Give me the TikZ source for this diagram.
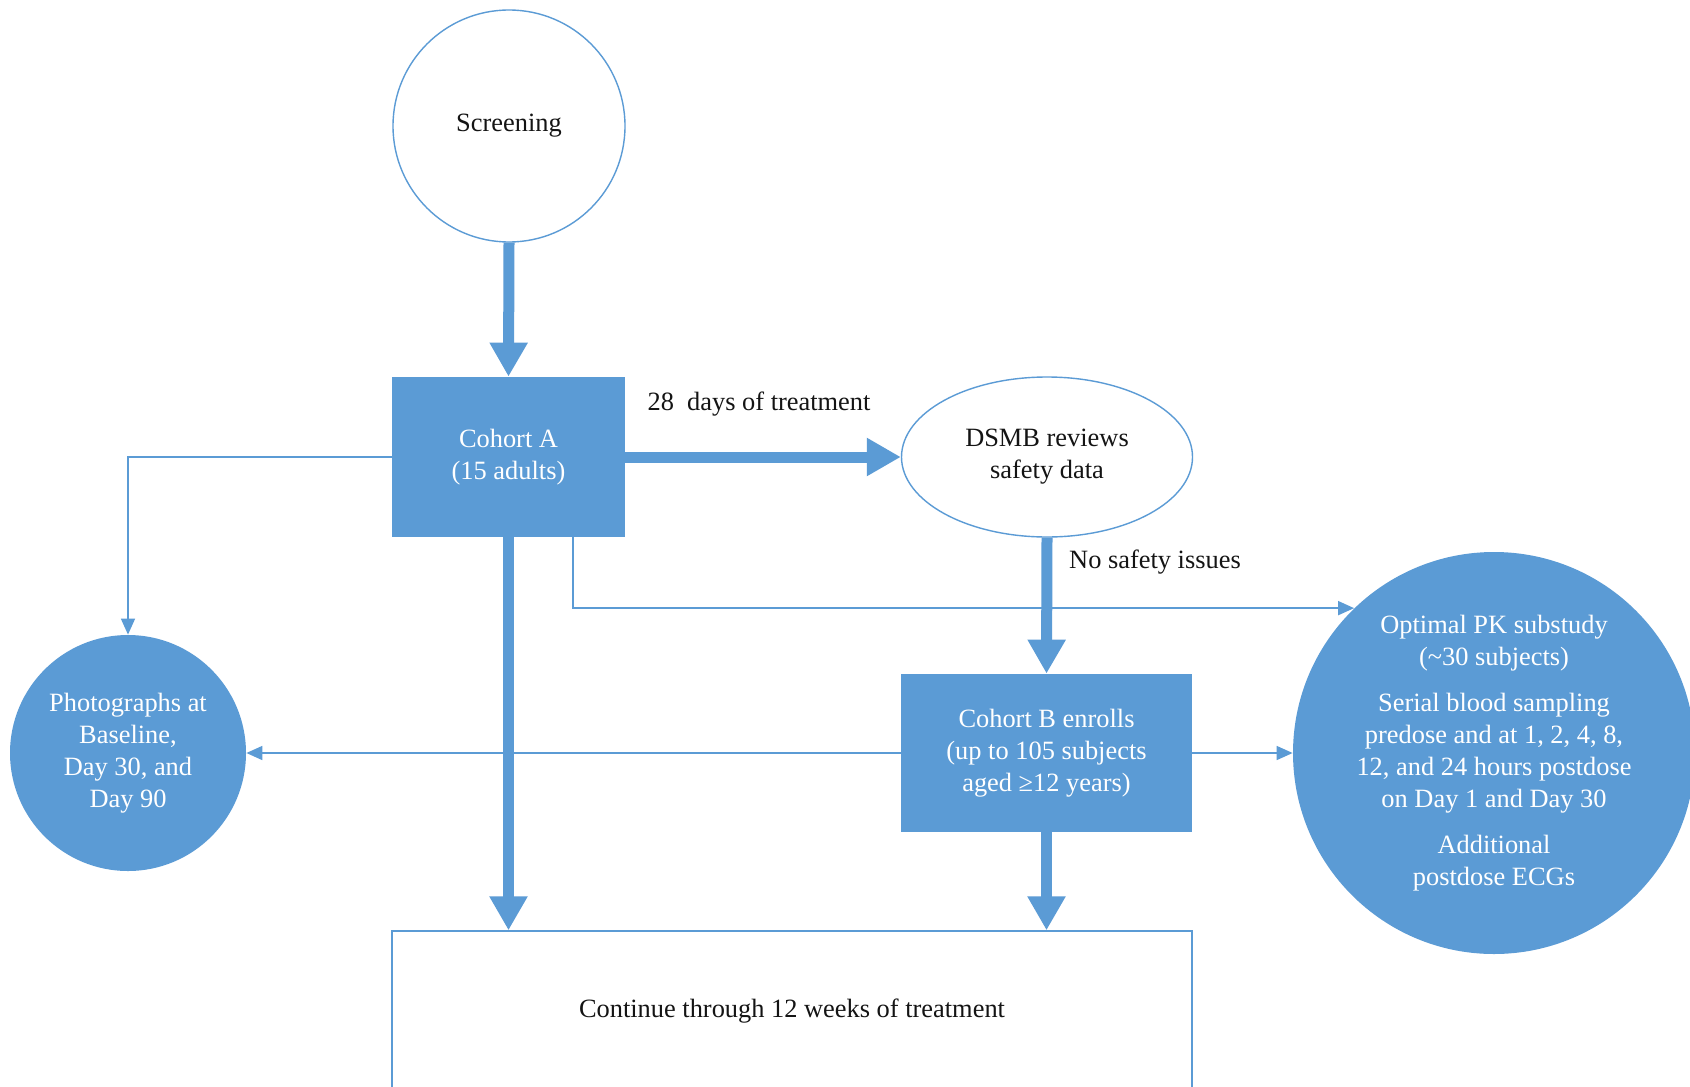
\documentclass[tikz,border=0pt]{standalone}
\usepackage{fontspec}
\setmainfont{Liberation Serif}
\usetikzlibrary{arrows.meta,shapes.geometric}
\definecolor{officeblue}{RGB}{91,155,213}
\definecolor{inktext}{RGB}{20,20,20}
\begin{document}
\begin{tikzpicture}[x=0.5pt,y=-0.5pt,
  base/.style={inner sep=0pt, align=center, font=\fontsize{13.2pt}{16pt}\selectfont},
  bluebox/.style={base, rectangle, fill=officeblue, text=white},
  bluecircle/.style={base, circle, fill=officeblue, text=white},
  openshape/.style={base, draw=officeblue, line width=0.7pt, fill=white, text=inktext},
  bigarrow/.style={draw=officeblue, line width=5.5pt, -{Triangle[length=17pt,width=18pt]}},
  thinarrow/.style={draw=officeblue, line width=0.8pt, -{Triangle[length=8pt,width=7pt]}},
  note/.style={base, text=inktext}
]
\useasboundingbox (0,0) rectangle (1690,1086);
\fill[white] (0,0) rectangle (1690,1086);

% nodes
\node[openshape, circle, minimum size=116pt] (scr) at (509,126) {Screening};
\node[bluebox, minimum width=116.5pt, minimum height=80pt] (cohA) at (508.5,457) {Cohort A\\(15 adults)};
\node[openshape, ellipse, minimum width=145.5pt, minimum height=80pt] (dsmb) at (1047,457) {DSMB reviews\\safety data};
\node[bluebox, minimum width=145.5pt, minimum height=79pt] (cohB) at (1046.5,753) {Cohort B enrolls\\(up to 105 subjects\\aged ≥12 years)};
\node[bluecircle, minimum size=118pt] (photo) at (128,753) {Photographs at\\Baseline,\\Day 30, and\\Day 90};
\node[bluecircle, minimum size=201pt] (pk) at (1494,753) {Optimal PK substudy\\(\textasciitilde30 subjects)\\[7pt]Serial blood sampling\\predose and at 1, 2, 4, 8,\\12, and 24 hours postdose\\on Day 1 and Day 30\\[7pt]Additional\\postdose ECGs};
\node[openshape, rectangle, minimum width=400pt, minimum height=80pt] (cont) at (792,1011) {Continue through 12 weeks of treatment};

% labels on connectors
\node[note] (lbl28) at (759,404) {28~ days of treatment};
\node[note] (lblsafe) at (1155,562) {No safety issues};

% thin connectors
\coordinate (tapx) at (573,0);
\draw[thinarrow] (cohA.south -| tapx) |- (pk.134.7);
\draw[thinarrow] (cohA.west) -| (photo.north);
\draw[thinarrow] (cohB.west) -- (photo.east);
\draw[thinarrow] (cohB.east) -- (pk.west);

% main flow
\draw[bigarrow] (scr.south) -- (cohA.north);
\draw[bigarrow] (cohA.east) -- (dsmb.west);
\draw[bigarrow] (dsmb.south) -- (cohB.north);
\draw[bigarrow] (cohA.south) -- (cont.north -| cohA.south);
\draw[bigarrow] (cohB.south) -- (cont.north -| cohB.south);
\end{tikzpicture}
\end{document}
